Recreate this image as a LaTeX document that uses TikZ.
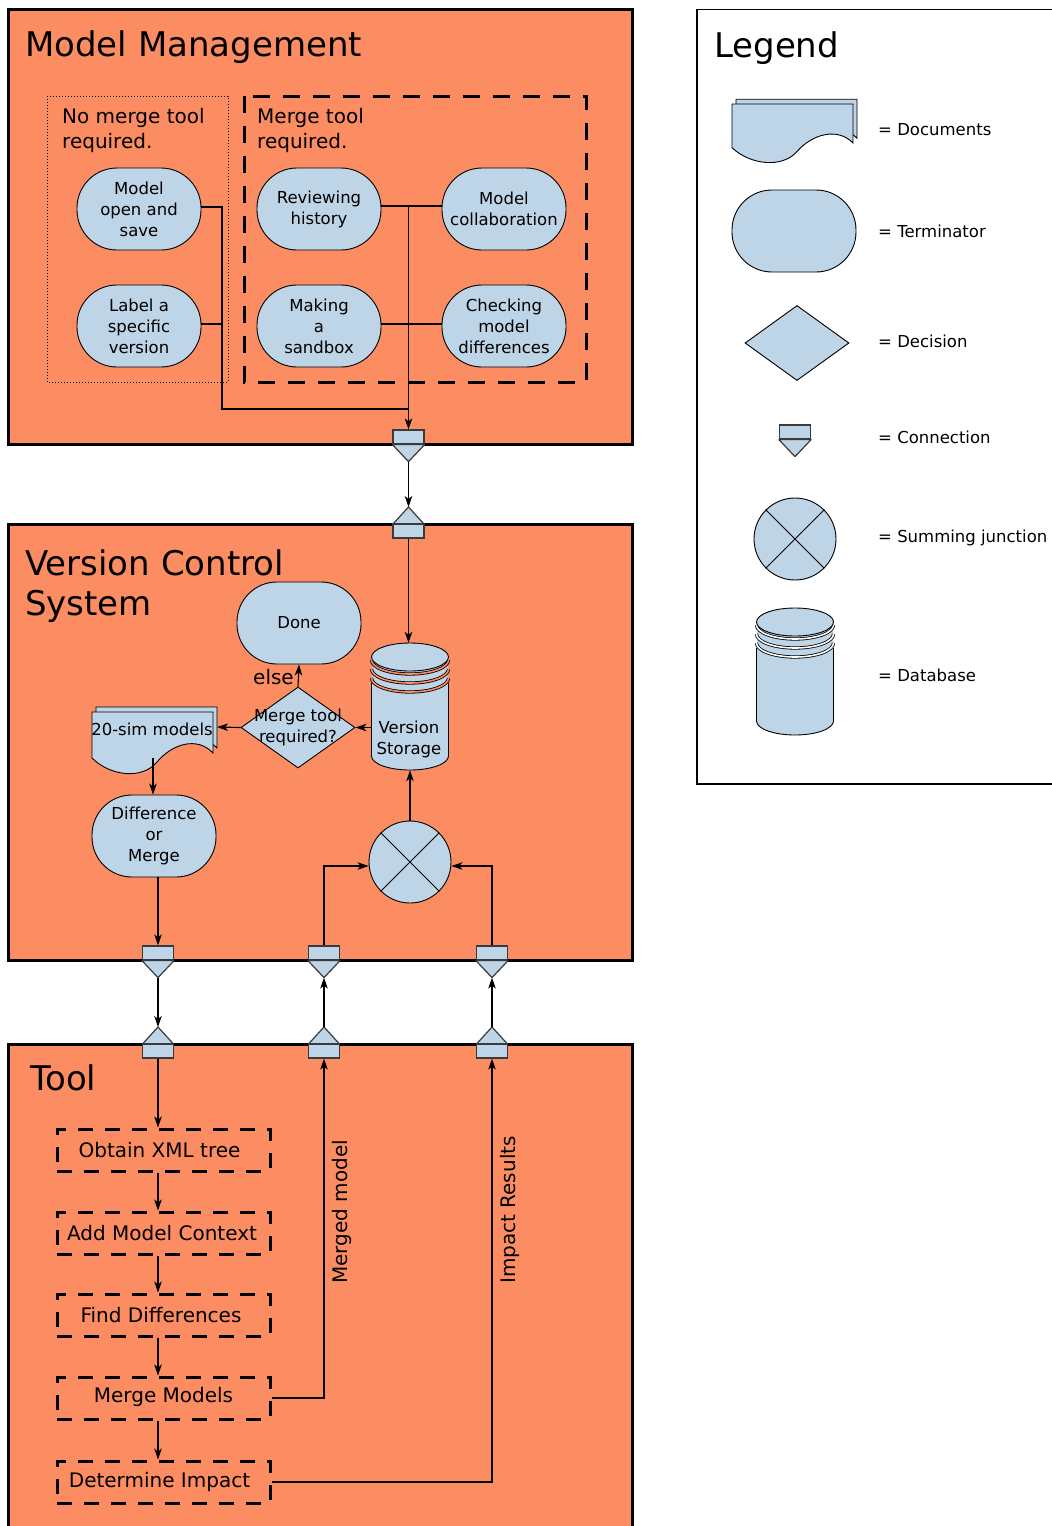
\documentclass[tikz,border=0pt]{standalone}
\usepackage{fontspec}
\setmainfont{DejaVu Sans}
\usetikzlibrary{arrows.meta,shapes.geometric,calc}
\definecolor{bgor}{HTML}{FC8D62}
\definecolor{nblue}{HTML}{BED4E7}
\definecolor{cgray}{HTML}{3A3A3A}

\tikzset{
  pics/docs/.style={code={
    \begin{scope}[shift={(4,-5)}]
      \filldraw[fill=nblue, draw=black, line width=0.9pt] (0,0) -- (121,0) -- (121,41) .. controls (105,24) and (80,32) .. (65,50) .. controls (50,68) and (18,64) .. (0,46) -- cycle;
    \end{scope}
    \filldraw[fill=nblue, draw=black, line width=0.9pt] (0,0) -- (121,0) -- (121,41) .. controls (105,24) and (80,32) .. (65,50) .. controls (50,68) and (18,64) .. (0,46) -- cycle;
  }},
  pics/db/.style={code={
    \fill[nblue] (-38.5,40) -- (-38.5,113) arc[start angle=180,end angle=360,x radius=38.5pt,y radius=14pt] -- (38.5,40) -- cycle;
    \draw[line width=0.9pt] (-38.5,40) -- (-38.5,113) arc[start angle=180,end angle=360,x radius=38.5pt,y radius=14pt] -- (38.5,40);
    \foreach \k in {2,1,0} {
      \fill[nblue] (0,17+9*\k) ellipse [x radius=38.5pt, y radius=14pt];
      \draw[line width=0.8pt, double=#1, double distance=1.6pt] (-38.5,17+9*\k) arc[start angle=180,end angle=360,x radius=38.5pt,y radius=14pt];
    }
    \filldraw[fill=nblue, line width=0.9pt] (0,14) ellipse [x radius=38.5pt, y radius=14pt];
  }},
  connrect/.style={rectangle, minimum width=31pt, minimum height=14pt, inner sep=0pt, fill=nblue, draw=cgray, line width=1.2pt},
  conntri/.style={fill=nblue, draw=cgray, line width=1.2pt, line join=round},
}

\newcommand\myConnDown[3]{%
  \node[connrect] (#1) at (#2,#3+7) {};
  \draw[conntri] (#1.south west) -- (#1.south east) -- ($(#1.south)+(0,17)$) -- cycle;
  \coordinate (#1-tip) at ($(#1.south)+(0,17)$);
}
\newcommand\myConnUp[3]{%
  \coordinate (#1-tip) at (#2,#3);
  \draw[conntri] (#2,#3) -- (#2-15.5,#3+17) -- (#2+15.5,#3+17) -- cycle;
  \node[connrect] (#1) at (#2,#3+24) {};
}

\begin{document}
\begin{tikzpicture}[x=1pt,y=-1pt,
  arr/.style={-{Stealth[length=11pt,width=7.5pt,inset=3pt]}, line width=1.1pt},
  ln/.style={line width=1.1pt},
  section/.style={draw=black, line width=3pt, fill=bgor},
  title/.style={font=\fontsize{34}{40}\selectfont, inner sep=0pt},
  sub/.style={font=\fontsize{20}{25}\selectfont, inner sep=0pt},
  small/.style={font=\fontsize{16.5}{21}\selectfont, inner sep=0pt, align=center},
  term/.style={rectangle, rounded corners=40pt, minimum width=124pt, minimum height=82pt, fill=nblue, draw=black, line width=0.9pt, align=center, inner sep=0pt, font=\fontsize{16.5}{21}\selectfont},
  decision/.style={diamond, minimum width=114pt, minimum height=81pt, inner sep=0pt, fill=nblue, draw=black, line width=0.9pt},
  sumj/.style={circle, minimum size=82pt, inner sep=0pt, fill=nblue, draw=black, line width=0.9pt},
  dbbox/.style={rectangle, minimum width=77pt, minimum height=127pt, inner sep=0pt},
  stepbox/.style={rectangle, draw=black, line width=3pt, dash pattern=on 15pt off 12pt, minimum width=213pt, minimum height=42pt, inner sep=0pt},
  steptext/.style={font=\fontsize{20}{25}\selectfont, inner sep=0pt},
  legtext/.style={font=\fontsize{16.5}{21}\selectfont, inner sep=0pt, anchor=base west},
]
\useasboundingbox (0,0) rectangle (1052,1526);
\clip (0,0) rectangle (1052,1526);
\fill[white] (0,0) rectangle (1052,1526);

% ---------- sections ----------
\draw[section] (8.5,9) rectangle (632,444);
\draw[section] (8.5,524) rectangle (632,960);
\draw[section] (8.5,1044) rectangle (632,1545);
\draw[line width=1.5pt] (697,9.5) rectangle (1070,784);

\node[title, anchor=base west] (t1) at (25,56) {Model Management};
\node[title, anchor=base west] (t2a) at (25,575) {Version Control};
\node[title, anchor=base west] (t2b) at (25,615) {System};
\node[title, anchor=base west] (t3) at (30,1090) {Tool};
\node[title, anchor=base west] (t4) at (714,57) {Legend};

% ---------- Model Management ----------
\draw[line width=1pt, dotted] (47,96) rectangle (228,382);
\draw[line width=3pt, dash pattern=on 17pt off 13pt] (244,96) rectangle (586,382);
\node[sub, anchor=base west] (nm1) at (62,123) {No merge tool};
\node[sub, anchor=base west] (nm2) at (62,148) {required.};
\node[sub, anchor=base west] (mt1) at (257,123) {Merge tool};
\node[sub, anchor=base west] (mt2) at (257,148) {required.};

\node[term] (mos) at (139,209) {Model\\open and\\save};
\node[term] (lsv) at (139,326) {Label a\\specific\\version};
\node[term] (rh) at (319,209) {Reviewing\\history};
\node[term] (mc) at (504,209) {Model\\collaboration};
\node[term] (mas) at (319,326) {Making\\a\\sandbox};
\node[term] (cmd) at (504,326) {Checking\\model\\differences};

\coordinate (j1) at (222,409);
\coordinate (j2) at (408.5,409);
\coordinate (j3) at (408.5,207);
\draw[ln] ([yshift=2pt]mos.east) -| (j1) -- (j2);
\draw[ln] ([yshift=2pt]lsv.east) -- ([yshift=2pt]lsv.east -| j1);
\draw[ln] ([yshift=3pt]rh.east) -- ([yshift=3pt]mc.west);
\draw[ln] ([yshift=2pt]mas.east) -- ([yshift=2pt]cmd.west);
\myConnDown{mmo}{408.5}{430}
\draw[arr] ([yshift=3pt]rh.east -| j3) -- (mmo.north);

% ---------- Version Control System ----------
\myConnUp{vin}{408.5}{507}
\draw[arr] (mmo-tip) -- (vin-tip);

\pic at (410,643) {db=bgor};
\node[dbbox] (db) at (410,706.5) {};
\node[small] (dbt) at (409,739) {Version\\Storage};
\draw[arr] (vin.south) -- (vin.south |- db.north);

\node[term] (done) at (299,623) {Done};
\node[decision] (dec) at (298,727.5) {};
\node[small] (dect) at (298,727) {Merge tool\\required?};
\draw[arr] (db.west |- dec.east) -- (dec.east);
\draw[arr] (dec.north) -- (done.south);
\node[sub, anchor=base east] (else) at (294,684) {else};

\pic at (92,712) {docs};
\coordinate (docR) at (217,727);
\coordinate (docB) at (153,758);
\node[small] (doct) at (152,729) {20-sim models};
\draw[arr] (dec.west) -- (docR);

\node[term] (dm) at (154,836) {Difference\\or\\Merge};
\draw[arr] (docB) -- (dm.north -| docB);

\myConnDown{vo1}{158}{946}
\myConnDown{vo2}{324}{946}
\myConnDown{vo3}{492}{946}
\draw[arr] (dm.south -| vo1) -- (vo1.north);

\node[sumj] (sum) at (410,862) {};
\draw[line width=0.9pt] (sum.45) -- (sum.225) (sum.135) -- (sum.315);
\draw[arr] (sum.north) -- (db.south);
\draw[arr] (vo2.north) |- ([yshift=-4pt]sum.west);
\draw[arr] (vo3.north) |- ([yshift=-4pt]sum.east);

% ---------- Tool ----------
\myConnUp{ti1}{158}{1027}
\myConnUp{ti2}{324}{1027}
\myConnUp{ti3}{492}{1027}
\draw[arr] (vo1-tip) -- (ti1-tip);
\draw[arr] (ti2-tip) -- (vo2-tip);
\draw[arr] (ti3-tip) -- (vo3-tip);

\node[stepbox] (s1) at (163.5,1150) {};
\node[stepbox] (s2) at (163.5,1233) {};
\node[stepbox] (s3) at (163.5,1315) {};
\node[stepbox] (s4) at (163.5,1398) {};
\node[stepbox] (s5) at (163.5,1482) {};
\node[steptext] (s1t) at (159.5,1150) {Obtain XML tree};
\node[steptext] (s2t) at (162,1233) {Add Model Context};
\node[steptext] (s3t) at (161,1315) {Find Differences};
\node[steptext] (s4t) at (163.5,1397) {Merge Models};
\node[steptext] (s5t) at (159.5,1482) {Determine Impact};

\draw[arr] (ti1.south) -- (ti1.south |- s1.north);
\draw[arr] (s1.south -| ti1) -- (s2.north -| ti1);
\draw[arr] (s2.south -| ti1) -- (s3.north -| ti1);
\draw[arr] (s3.south -| ti1) -- (s4.north -| ti1);
\draw[arr] (s4.south -| ti1) -- (s5.north -| ti1);
\draw[arr] (s4.east) -| (ti2.south);
\draw[arr] (s5.east) -| (ti3.south);
\node[sub, rotate=90] (lm) at (342,1212) {Merged model};
\node[sub, rotate=90] (lir) at (510,1210) {Impact Results};

% ---------- Legend ----------
\pic[yscale=0.95] at (732,104) {docs};
\node[legtext] (lt1) at (878,135) {= Documents};
\node[term] (lterm) at (794,231) {};
\node[legtext] (lt2) at (878,237) {= Terminator};
\node[decision, minimum width=104pt, minimum height=75pt] (ldec) at (797,343) {};
\node[legtext] (lt3) at (878,347) {= Decision};
\myConnDown{lconn}{795}{425}
\node[legtext] (lt4) at (878,443) {= Connection};
\node[sumj] (lsum) at (795,539) {};
\draw[line width=0.9pt] (lsum.45) -- (lsum.225) (lsum.135) -- (lsum.315);
\node[legtext] (lt5) at (878,542) {= Summing junction};
\pic at (795,608) {db=white};
\node[legtext] (lt6) at (878,681) {= Database};
\end{tikzpicture}
\end{document}
